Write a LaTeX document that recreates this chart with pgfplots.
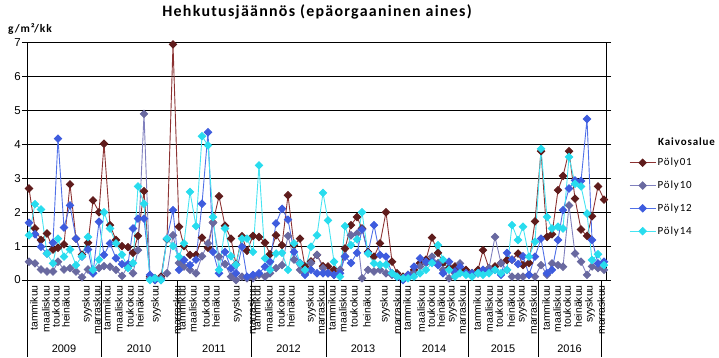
\documentclass[border=0pt]{standalone}
\usepackage{pgfplots}
\pgfplotsset{compat=1.18}
\usepackage{pgfplotstable}
\usepackage{fontspec}
\setmainfont{Liberation Sans}
\newfontfamily\calibri[LetterSpace=8]{Carlito}
\definecolor{l01}{RGB}{140,50,50}
\definecolor{m01}{RGB}{95,28,28}
\definecolor{l10}{RGB}{128,128,190}
\definecolor{m10}{RGB}{105,105,160}
\definecolor{l12}{RGB}{80,112,232}
\definecolor{m12}{RGB}{62,92,222}
\definecolor{l14}{RGB}{70,228,242}
\definecolor{m14}{RGB}{40,220,238}

\pgfplotstableread{
x    p01   p10   p12   p14
29   2.70  0.54  1.69  1.32
35   1.52  0.49  1.35  2.24
41   1.18  0.31  0.98  2.08
47   1.37  0.25  0.78  0.78
53   0.90  0.25  1.10  0.49
58   0.95  0.54  4.17  1.22
64   1.05  0.31  1.55  0.69
70   2.82  0.35  2.20  0.90
76   1.22  0.25  1.22  0.44
82   0.75  0.08  0.69  0.70
88   1.10  0.31  0.90  1.27
93   2.35  0.20  0.20  0.30
99   2.00  0.35  1.72  0.60
104  4.02  0.41  0.74  2.00
110  1.62  0.39  1.08  1.52
116  1.18  0.30  0.64  1.08
122  1.00  0.12  0.47  0.75
128  0.97  0.40  0.47  0.35
133  0.80  0.20  1.52  0.50
138  1.30  0.88  1.81  2.76
144  2.62  4.90  1.81  2.25
150  0.10  0.05  0.15  0.00
155  0.05  0.00  0.00  0.05
161  0.10  0.05  0.00  0.00
167  1.20  0.20  1.22  1.22
173  6.95  1.32  2.06  1.00
179  1.57  0.50  0.30  0.69
184  1.00  0.40  0.59  1.08
190  0.74  0.30  0.44  2.60
196  0.74  0.20  0.60  1.59
202  1.25  0.70  2.25  4.24
208  0.95  1.08  4.36  3.97
213  1.70  1.69  0.83  1.86
219  2.47  0.69  0.20  0.30
225  1.60  0.47  0.83  1.52
231  1.22  0.10  0.34  0.70
236  0.46  0.00  0.20  0.45
242  1.29  0.10  0.98  1.22
247  0.86  0.05  0.10  1.22
253  1.30  0.05  0.15  0.83
259  1.27  0.15  0.20  3.38
265  1.10  0.10  0.39  0.64
270  0.76  0.20  0.54  0.30
276  1.32  0.35  1.67  0.78
282  1.03  0.44  2.10  0.80
288  2.50  1.30  1.78  0.30
294  1.03  0.60  0.83  1.08
300  1.22  0.30  0.50  0.49
305  0.40  0.20  0.15  0.30
311  0.55  0.50  0.30  0.98
317  0.74  0.74  0.20  1.32
323  0.41  0.35  0.20  2.57
328  0.40  0.20  0.20  1.76
334  0.30  0.15  0.15  0.54
340  0.30  0.30  0.20  0.10
345  0.93  0.70  0.69  1.59
351  1.62  1.32  0.50  1.03
357  1.86  1.37  0.80  1.20
362  1.52  0.05  1.49  2.00
368  0.83  0.30  0.80  0.78
374  0.69  0.25  1.62  0.49
380  1.08  0.30  0.74  0.45
386  2.00  0.20  0.69  0.45
392  0.54  0.15  0.20  0.20
397  0.20  0.10  0.10  0.10
403  0.10  0.05  0.00  0.05
408  0.15  0.10  0.15  0.05
414  0.30  0.20  0.39  0.10
420  0.50  0.40  0.64  0.20
426  0.60  0.50  0.54  0.30
432  1.25  0.69  0.54  0.50
438  0.80  0.50  0.44  1.03
443  0.50  0.30  0.20  0.60
449  0.35  0.05  0.54  0.30
455  0.40  0.20  0.25  0.10
460  0.30  0.49  0.39  0.20
466  0.30  0.20  0.20  0.15
472  0.20  0.15  0.20  0.10
478  0.30  0.20  0.20  0.20
483  0.88  0.30  0.30  0.15
489  0.34  0.35  0.25  0.20
495  0.40  1.27  0.30  0.30
501  0.50  0.50  0.15  0.20
507  0.59  0.30  0.80  0.30
512  0.60  0.10  0.60  1.62
518  0.78  0.10  0.47  1.18
523  0.44  0.10  0.70  1.57
529  0.50  0.15  0.15  0.69
535  1.73  0.10  0.69  1.13
541  3.80  0.44  1.22  3.87
547  1.27  0.15  0.20  1.86
552  1.35  0.49  0.30  1.52
558  2.65  0.44  1.18  1.57
563  3.07  0.39  2.06  1.52
569  3.80  2.20  2.70  3.63
575  2.40  0.78  2.94  2.84
581  1.49  0.54  2.92  2.76
587  1.30  0.15  4.75  1.96
592  1.88  0.40  1.18  0.59
598  2.76  0.35  0.49  0.76
604  2.37  0.30  0.54  0.44
}\data

\begin{document}
\begin{tikzpicture}[x=1bp,y=1bp]
\path[use as bounding box] (0,0) rectangle (719,357);
\begin{axis}[
  at={(27bp,77bp)}, anchor=south west,
  scale only axis, width=579bp, height=237.3bp,
  xmin=27, xmax=606, ymin=0, ymax=7,
  axis line style={black, line width=0.6bp},
  ymajorgrids, grid style={black, line width=0.7bp},
  ytick={0,1,...,7},
  yticklabel style={font=\fontsize{11.5}{13}\selectfont, inner sep=1bp},
  /pgf/number format/assume math mode=true,
  ytick style={black, line width=0.6bp},
  tick align=outside, major tick length=5bp,
  xtick={30,42,52,62,83,93, 103,115,126,136,152,173, 178,189,202,212,233,248, 253,265,277,287,307,317, 328,339,350,363,381,393, 403,417,427,437,448,458, 473,485,495,507,518,529, 542,553,563,574,586,597},
  xticklabels={tammikuu,maaliskuu,toukokuu,heinäkuu,syyskuu,marraskuu,
               tammikuu,maaliskuu,toukokuu,heinäkuu,syyskuu,marraskuu,
               tammikuu,maaliskuu,toukokuu,heinäkuu,syyskuu,marraskuu,
               tammikuu,maaliskuu,toukokuu,heinäkuu,syyskuu,marraskuu,
               tammikuu,maaliskuu,toukokuu,heinäkuu,syyskuu,marraskuu,
               tammikuu,maaliskuu,toukokuu,heinäkuu,syyskuu,marraskuu,
               tammikuu,maaliskuu,toukokuu,heinäkuu,syyskuu,marraskuu,
               tammikuu,maaliskuu,toukokuu,heinäkuu,syyskuu,marraskuu},
  xtick style={draw=none},
  xticklabel style={rotate=90, anchor=east, font=\fontsize{10.5}{12}\selectfont, inner sep=0pt, yshift=-4bp},
  clip=false,
  legend style={at={(axis cs:629,2.45)}, anchor=west, draw=none, fill=none,
    font=\calibri\fontsize{11}{13}\selectfont, row sep=10.7bp, inner sep=0pt,
    nodes={inner sep=1.5bp}},
  legend cell align=left,
  legend image code/.code={\draw[mark repeat=2,mark phase=2] plot coordinates {(0bp,0bp) (13bp,0bp) (26bp,0bp)};},
]
\addplot[l01, line width=0.9bp, mark=square*, mark size=2.6bp, mark options={rotate=45, fill=m01, draw=m01}] table[x=x,y=p01] {\data};
\addlegendentry{Pöly01}
\addplot[l10, line width=0.9bp, mark=square*, mark size=2.6bp, mark options={rotate=45, fill=m10, draw=m10}] table[x=x,y=p10] {\data};
\addlegendentry{Pöly10}
\addplot[l12, line width=0.9bp, mark=square*, mark size=2.6bp, mark options={rotate=45, fill=m12, draw=m12}] table[x=x,y=p12] {\data};
\addlegendentry{Pöly12}
\addplot[l14, line width=0.9bp, mark=square*, mark size=2.6bp, mark options={rotate=45, fill=m14, draw=m14}] table[x=x,y=p14] {\data};
\addlegendentry{Pöly14}
\end{axis}
% year separators and labels
\foreach \xx in {27,101,177,251,326,400,468,538,601} {\draw[black, line width=0.6bp] (\xx,77) -- (\xx,0);}
\foreach \xa/\xb/\yy in {27/101/2009,101/177/2010,177/251/2011,251/326/2012,326/400/2013,400/468/2014,468/538/2015,538/601/2016}
  {\node[font=\fontsize{11}{13}\selectfont] at ({(\xa+\xb)/2},8) {\yy};}
\node[font=\calibri\bfseries\fontsize{16}{19}\selectfont] at (317,345) {Hehkutusjäännös (epäorgaaninen aines)};
\node[font=\calibri\bfseries\fontsize{11.5}{13}\selectfont, anchor=west, inner sep=0pt] at (8,328) {g/m²/kk};
\node[font=\calibri\bfseries\fontsize{11}{13}\selectfont, anchor=west, inner sep=0pt] at (658,215) {Kaivosalue};
\end{tikzpicture}
\end{document}
